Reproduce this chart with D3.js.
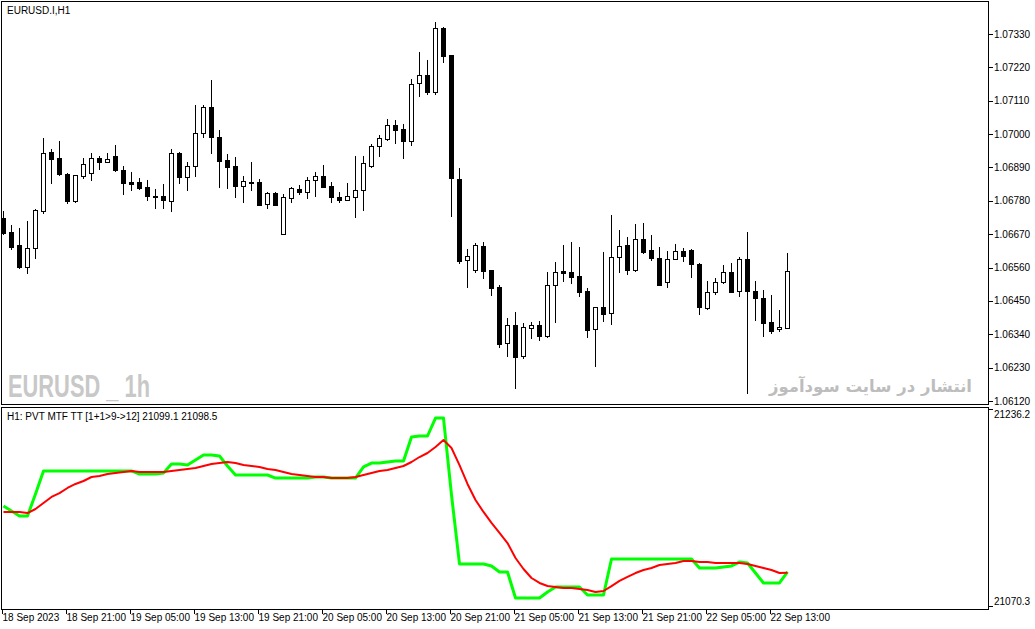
<!DOCTYPE html>
<html>
<head>
<meta charset="utf-8">
<script src="https://cdn.jsdelivr.net/npm/d3@7"></script>
<style>
  body { margin: 0; background: #fff; }
  svg { display: block; }
  text { font-family: "Liberation Sans", Arial, sans-serif; }
</style>
</head>
<body>
<div id="chart"></div>
<script>
// EURUSD.I H1 candles, 18 Sep 13:00 .. 22 Sep 15:00
const opens = [
  1.06723,1.06677,1.06634,1.06562,1.06624,1.06746,1.06941,1.06921,1.06868,1.06779,
  1.06862,1.06872,1.06921,1.06908,1.06928,1.06882,1.06842,1.06842,1.06826,1.06796,
  1.06796,1.06779,1.06938,1.06859,1.06895,1.07004,1.07089,1.06990,1.06915,1.06895,
  1.06829,1.06842,1.06842,1.06770,1.06806,1.06671,1.06789,1.06819,1.06809,1.06849,
  1.06862,1.06829,1.06793,1.06783,1.06793,1.06816,1.06895,1.06961,1.06984,1.07030,
  1.07017,1.06977,1.07168,1.07195,1.07139,1.07350,1.07261,1.06852,1.06585,1.06552,
  1.06631,1.06552,1.06496,1.06311,1.06371,1.06268,1.06361,1.06371,1.06334,1.06503,
  1.06549,1.06545,1.06532,1.06483,1.06357,1.06430,1.06410,1.06595,1.06634,1.06552,
  1.06654,1.06618,1.06592,1.06512,1.06588,1.06615,1.06618,1.06572,1.06427,1.06479,
  1.06512,1.06545,1.06483,1.06588,1.06483,1.06460,1.06381,1.06357,1.06361
]
const highs = [
  1.06746,1.06700,1.06690,1.06714,1.06753,1.06987,1.06951,1.06977,1.06872,1.06865,
  1.06921,1.06938,1.06928,1.06938,1.06964,1.06895,1.06875,1.06855,1.06849,1.06819,
  1.06836,1.06951,1.06941,1.06908,1.07096,1.07096,1.07178,1.07014,1.06934,1.06925,
  1.06862,1.06908,1.06852,1.06809,1.06809,1.06803,1.06826,1.06832,1.06859,1.06875,
  1.06898,1.06842,1.06809,1.06839,1.06928,1.06928,1.06967,1.06997,1.07050,1.07047,
  1.07033,1.07182,1.07271,1.07244,1.07370,1.07353,1.07261,1.06888,1.06621,1.06641,
  1.06644,1.06552,1.06503,1.06394,1.06413,1.06377,1.06381,1.06384,1.06545,1.06578,
  1.06634,1.06644,1.06628,1.06493,1.06430,1.06611,1.06733,1.06684,1.06661,1.06704,
  1.06707,1.06667,1.06628,1.06615,1.06638,1.06624,1.06621,1.06575,1.06516,1.06526,
  1.06568,1.06575,1.06595,1.06677,1.06516,1.06486,1.06470,1.06420,1.06608
]
const lows = [
  1.06671,1.06621,1.06559,1.06542,1.06592,1.06740,1.06839,1.06865,1.06773,1.06776,
  1.06855,1.06849,1.06885,1.06908,1.06878,1.06803,1.06816,1.06819,1.06783,1.06756,
  1.06756,1.06746,1.06839,1.06816,1.06862,1.06990,1.06938,1.06826,1.06822,1.06793,
  1.06776,1.06816,1.06766,1.06756,1.06766,1.06671,1.06776,1.06803,1.06789,1.06796,
  1.06826,1.06776,1.06776,1.06783,1.06727,1.06750,1.06892,1.06928,1.06981,1.06971,
  1.06921,1.06964,1.07126,1.07132,1.07132,1.07238,1.06730,1.06575,1.06496,1.06545,
  1.06526,1.06470,1.06298,1.06268,1.06163,1.06262,1.06328,1.06321,1.06331,1.06381,
  1.06516,1.06509,1.06466,1.06331,1.06235,1.06384,1.06374,1.06545,1.06539,1.06549,
  1.06608,1.06585,1.06503,1.06496,1.06588,1.06582,1.06529,1.06407,1.06423,1.06473,
  1.06509,1.06479,1.06466,1.06146,1.06387,1.06334,1.06344,1.06351,1.06361
]
const closes = [
  1.06674,1.06628,1.06562,1.06624,1.06750,1.06938,1.06918,1.06868,1.06779,1.06865,
  1.06901,1.06921,1.06908,1.06918,1.06882,1.06839,1.06836,1.06822,1.06796,1.06793,
  1.06783,1.06938,1.06859,1.06895,1.07004,1.07089,1.06990,1.06911,1.06892,1.06829,
  1.06845,1.06839,1.06766,1.06806,1.06766,1.06793,1.06822,1.06809,1.06849,1.06862,
  1.06826,1.06793,1.06783,1.06796,1.06816,1.06905,1.06961,1.06987,1.07030,1.07014,
  1.06977,1.07165,1.07195,1.07139,1.07350,1.07258,1.06855,1.06582,1.06598,1.06634,
  1.06549,1.06493,1.06308,1.06371,1.06265,1.06364,1.06371,1.06334,1.06503,1.06545,
  1.06542,1.06529,1.06479,1.06354,1.06430,1.06407,1.06595,1.06631,1.06552,1.06654,
  1.06611,1.06592,1.06503,1.06588,1.06615,1.06598,1.06572,1.06430,1.06479,1.06512,
  1.06545,1.06479,1.06588,1.06483,1.06460,1.06377,1.06351,1.06364,1.06549
]

// PVT MTF TT indicator (green) and its signal (red)
const pvtMain = [
  21154.9,21150.7,21146.5,21146.5,21165.1,21184.6,21184.6,21184.6,21184.6,21184.6,
  21184.6,21184.6,21184.6,21184.6,21184.6,21184.6,21184.6,21182.0,21182.0,21182.0,
  21182.9,21190.5,21190.5,21189.6,21193.9,21198.1,21198.1,21197.3,21188.8,21181.2,
  21181.2,21181.2,21181.2,21181.2,21178.6,21178.6,21178.6,21178.6,21178.6,21179.5,
  21179.5,21178.6,21178.6,21178.6,21178.6,21188.0,21191.3,21191.3,21192.2,21193.0,
  21193.0,21213.3,21214.2,21214.2,21229.4,21229.4,21164.3,21105.9,21105.9,21105.9,
  21105.9,21104.2,21099.1,21099.1,21077.1,21077.1,21077.1,21077.1,21082.2,21086.4,
  21086.4,21086.4,21086.4,21079.6,21079.6,21079.6,21110.1,21110.1,21110.1,21110.1,
  21110.1,21110.1,21110.1,21110.1,21110.1,21110.1,21110.1,21102.5,21102.5,21102.5,
  21103.3,21104.2,21107.5,21106.7,21098.2,21089.8,21089.8,21089.8,21099.1
]
const pvtSignal = [
  21149.9,21149.9,21149.9,21149.0,21152.4,21157.5,21162.6,21165.9,21170.2,21173.6,
  21176.1,21179.5,21180.3,21182.0,21182.9,21183.7,21184.6,21183.7,21183.7,21183.7,
  21183.7,21184.6,21185.4,21186.3,21187.1,21188.8,21190.5,21191.3,21192.2,21191.3,
  21189.6,21188.8,21188.0,21186.3,21185.4,21183.7,21182.0,21181.2,21180.3,21179.5,
  21179.5,21178.6,21178.6,21178.6,21179.5,21181.2,21182.9,21184.6,21185.4,21187.1,
  21188.8,21192.2,21196.4,21199.8,21204.9,21210.8,21204.0,21189.6,21173.6,21160.0,
  21149.9,21140.6,21132.1,21123.6,21110.9,21101.6,21094.0,21089.8,21087.2,21086.4,
  21085.5,21085.5,21084.7,21083.8,21082.2,21083.0,21087.2,21091.5,21094.9,21098.2,
  21100.8,21102.5,21105.0,21105.9,21106.7,21108.4,21108.4,21107.5,21107.5,21106.7,
  21106.7,21106.7,21106.7,21105.9,21104.2,21102.5,21100.8,21098.2,21098.5
]

const priceTicks = [1.07330,1.07220,1.07110,1.07000,1.06890,1.06780,1.06670,1.06560,1.06450,1.06340,1.06230,1.06120]
const indTicks = [21236.2, 21070.3]
const timeTickBars = [0, 8, 16, 24, 32, 40, 48, 56, 64, 72, 80, 88, 96]
const timeLabels = [
  "18 Sep 2023","18 Sep 21:00","19 Sep 05:00","19 Sep 13:00","19 Sep 21:00",
  "20 Sep 05:00","20 Sep 13:00","20 Sep 21:00","21 Sep 05:00","21 Sep 13:00",
  "21 Sep 21:00","22 Sep 05:00","22 Sep 13:00"
]

const W = 1035, H = 629
const plotRight = 988
const main = {top: 1, bottom: 404}
const sub = {top: 407, bottom: 609}

const svg = d3.select("#chart").append("svg")
  .attr("width", W)
  .attr("height", H)

const x = d3.scaleLinear().domain([0, opens.length - 1]).range([3.5, 787.5])
const y = d3.scaleLinear().domain([1.06120, 1.07330]).range([401, 34])
const yInd = d3.scaleLinear().domain([21070.3, 21236.2]).range([606, 410])
const fmtPrice = d3.format(".5f")

// panel frames
svg.append("rect")
  .attr("x", 1.5).attr("y", main.top + 0.5)
  .attr("width", plotRight - 1).attr("height", main.bottom - main.top)
  .attr("fill", "#fff").attr("stroke", "#000")
svg.append("rect")
  .attr("x", 1.5).attr("y", sub.top + 0.5)
  .attr("width", plotRight - 1).attr("height", sub.bottom - sub.top)
  .attr("fill", "#fff").attr("stroke", "#000")

// watermarks
svg.append("text")
  .attr("x", 8).attr("y", 397)
  .attr("font-size", 31).attr("font-weight", "bold")
  .attr("textLength", 142).attr("lengthAdjust", "spacingAndGlyphs")
  .attr("fill", "#c8c8c8")
  .text("EURUSD _ 1h")
svg.append("text")
  .attr("x", 972).attr("y", 392)
  .attr("text-anchor", "end")
  .style("font-family", "'DejaVu Sans', sans-serif")
  .attr("font-size", 16.5).attr("font-weight", "bold")
  .attr("fill", "#bdbdbd")
  .text("انتشار در سایت سودآموز")

// candles
const bars = d3.range(opens.length).map(i => ({
  i: i, o: opens[i], h: highs[i], l: lows[i], c: closes[i]
}))

const candles = svg.append("g")
candles.selectAll("line")
  .data(bars)
  .enter()
  .append("line")
    .attr("x1", d => x(d.i)).attr("x2", d => x(d.i))
    .attr("y1", d => Math.round(y(d.h))).attr("y2", d => Math.round(y(d.l)) + 1)
    .attr("stroke", "#000")
    .attr("stroke-width", 1)

candles.selectAll("rect")
  .data(bars)
  .enter()
  .append("rect")
    .attr("x", d => x(d.i) - 2)
    .attr("y", d => Math.round(y(Math.max(d.o, d.c))) + 0.5)
    .attr("width", 4)
    .attr("height", d => Math.round(y(Math.min(d.o, d.c))) - Math.round(y(Math.max(d.o, d.c))))
    .attr("fill", d => d.c >= d.o ? "#fff" : "#000")
    .attr("stroke", "#000")
    .attr("stroke-width", 1)

// price axis
const pAxis = svg.append("g")
pAxis.selectAll("line")
  .data(priceTicks)
  .enter()
  .append("line")
    .attr("x1", plotRight + 1).attr("x2", plotRight + 5)
    .attr("y1", d => Math.round(y(d)) + 0.5).attr("y2", d => Math.round(y(d)) + 0.5)
    .attr("stroke", "#000")
pAxis.selectAll("text")
  .data(priceTicks)
  .enter()
  .append("text")
    .attr("x", plotRight + 6)
    .attr("y", d => y(d) + 3.5)
    .attr("font-size", 10)
    .attr("fill", "#000")
    .text(d => fmtPrice(d))

svg.append("text")
  .attr("x", 7).attr("y", 14)
  .attr("font-size", 10).attr("fill", "#000")
  .text("EURUSD.I,H1")

// indicator
svg.append("clipPath").attr("id", "subclip")
  .append("rect")
    .attr("x", 2).attr("y", sub.top + 1)
    .attr("width", plotRight - 2).attr("height", sub.bottom - sub.top - 1)

const ind = svg.append("g").attr("clip-path", "url(#subclip)")
const line = d3.line().x((d, i) => x(i)).y(d => yInd(d))

ind.append("path")
  .attr("d", line(pvtMain))
  .attr("fill", "none")
  .attr("stroke", "#00ff00")
  .attr("stroke-width", 3)
  .attr("stroke-linejoin", "round")
ind.append("path")
  .attr("d", line(pvtSignal))
  .attr("fill", "none")
  .attr("stroke", "#ff0000")
  .attr("stroke-width", 2)
  .attr("stroke-linejoin", "round")

svg.append("text")
  .attr("x", 7).attr("y", 420)
  .attr("font-size", 10).attr("fill", "#000")
  .text("H1: PVT MTF TT [1+1>9->12] " + pvtMain[pvtMain.length - 1].toFixed(1) + " " + pvtSignal[pvtSignal.length - 1].toFixed(1))

svg.append("line")
  .attr("x1", plotRight + 1).attr("x2", plotRight + 5)
  .attr("y1", sub.top + 2.5).attr("y2", sub.top + 2.5)
  .attr("stroke", "#000")
svg.append("line")
  .attr("x1", plotRight + 1).attr("x2", plotRight + 5)
  .attr("y1", sub.bottom - 2.5).attr("y2", sub.bottom - 2.5)
  .attr("stroke", "#000")
svg.append("text")
  .attr("x", plotRight + 6).attr("y", sub.top + 11)
  .attr("font-size", 10).attr("fill", "#000")
  .text(indTicks[0].toFixed(1))
svg.append("text")
  .attr("x", plotRight + 6).attr("y", sub.bottom - 4)
  .attr("font-size", 10).attr("fill", "#000")
  .text(indTicks[1].toFixed(1))

// time axis
const tAxis = svg.append("g")
tAxis.selectAll("line")
  .data(timeTickBars)
  .enter()
  .append("line")
    .attr("x1", d => x(d) - 1).attr("x2", d => x(d) - 1)
    .attr("y1", sub.bottom + 1).attr("y2", sub.bottom + 5)
    .attr("stroke", "#000")
tAxis.selectAll("text")
  .data(timeTickBars)
  .enter()
  .append("text")
    .attr("x", d => x(d) - 1)
    .attr("y", 621)
    .attr("font-size", 10)
    .attr("fill", "#000")
    .text((d, i) => timeLabels[i])
</script>
</body>
</html>
